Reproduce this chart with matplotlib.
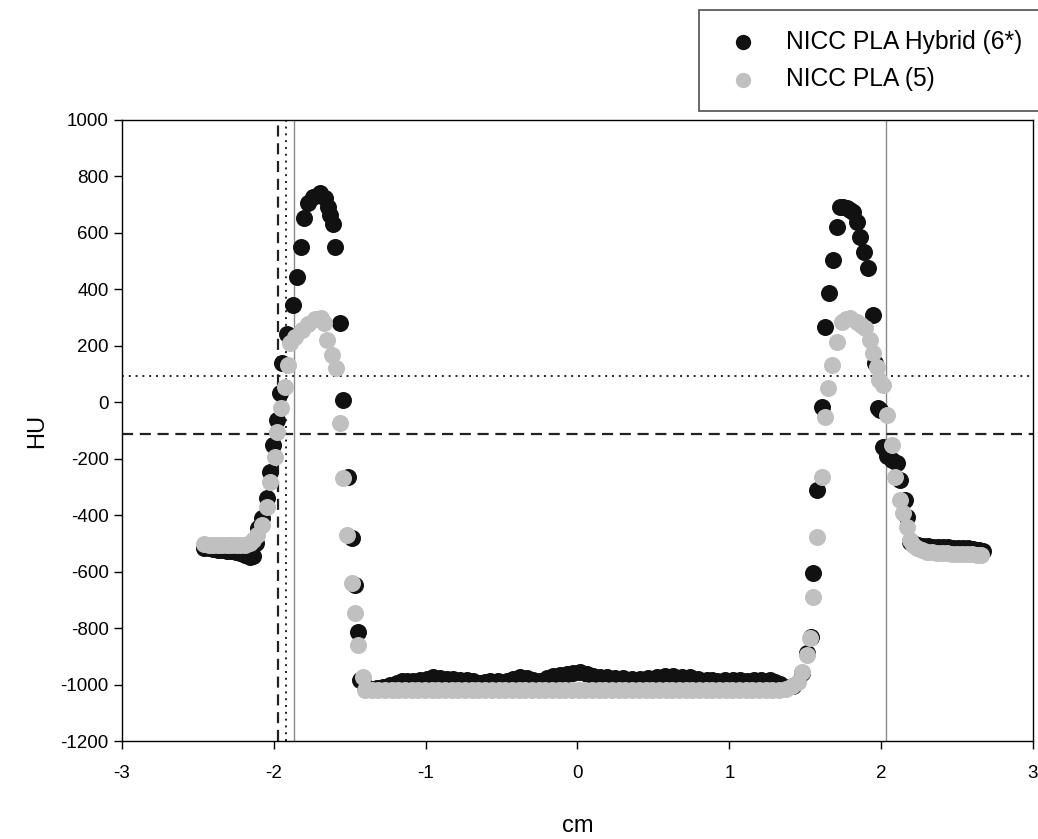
import matplotlib.pyplot as plt
import numpy as np

plt.rcParams['font.family'] = ['Liberation Sans', 'DejaVu Sans']
plt.rcParams['axes.unicode_minus'] = False

# NICC PLA Hybrid (6*) profile: left wall, lumen, right wall
hyb_x_left = [-2.460, -2.430, -2.400, -2.370, -2.340, -2.310, -2.280, -2.250, -2.220,
              -2.190, -2.160, -2.135, -2.115, -2.102, -2.080, -2.047, -2.025, -2.003,
              -1.981, -1.959, -1.948, -1.915, -1.872, -1.849, -1.821, -1.799, -1.773,
              -1.740, -1.696, -1.663, -1.641, -1.630, -1.608, -1.597, -1.564, -1.542,
              -1.510, -1.487, -1.465, -1.444, -1.432]
hyb_hu_left = [-516, -518, -520, -522, -524, -526, -528, -531, -534,
               -542, -548, -545, -500, -446, -411, -340, -246, -151,
               -63, 32, 138, 241, 345, 445, 551, 654, 705,
               728, 740, 723, 693, 663, 631, 551, 280, 8,
               -264, -482, -647, -813, -984]
hyb_x_mid = [-1.400, -1.367, -1.323, -1.279, -1.235, -1.191, -1.158, -1.125, -1.081,
             -1.037, -0.994, -0.950, -0.906, -0.862, -0.818, -0.774, -0.730, -0.686,
             -0.642, -0.609, -0.576, -0.521, -0.466, -0.423, -0.379, -0.335, -0.291,
             -0.247, -0.203, -0.159, -0.115, -0.071, -0.027, 0.016, 0.060, 0.104,
             0.148, 0.192, 0.247, 0.302, 0.357, 0.412, 0.467, 0.522, 0.577,
             0.631, 0.686, 0.741, 0.796, 0.851, 0.884, 0.917, 0.972, 1.026,
             1.070, 1.114, 1.160, 1.210, 1.268, 1.301, 1.334, 1.378, 1.420]
hyb_hu_mid = [-1005, -1016, -1012, -1008, -1000, -993, -989, -987, -986,
              -984, -979, -975, -978, -981, -982, -983, -983, -988,
              -993, -990, -987, -987, -987, -980, -972, -978, -983,
              -987, -978, -969, -966, -963, -960, -957, -963, -969,
              -972, -975, -976, -977, -979, -981, -976, -972, -971,
              -971, -973, -975, -979, -983, -985, -987, -985, -984,
              -984, -987, -985, -984, -983, -990, -998, -1010, -1005]
hyb_x_right = [1.480, 1.510, 1.535, 1.553, 1.575, 1.608, 1.630, 1.659, 1.681,
               1.711, 1.729, 1.751, 1.773, 1.795, 1.816, 1.843, 1.861, 1.887,
               1.915, 1.944, 1.959, 1.981, 1.992, 2.014, 2.040, 2.069, 2.102,
               2.124, 2.157, 2.168, 2.190, 2.212, 2.245, 2.278, 2.311, 2.344,
               2.377, 2.410, 2.443, 2.476, 2.509, 2.542, 2.575, 2.608, 2.641, 2.672]
hyb_hu_right = [-960, -890, -830, -606, -311, -16, 268, 386, 504,
                622, 693, 690, 687, 681, 675, 640, 587, 534,
                475, 309, 138, -21, -27, -157, -190, -204, -216,
                -275, -346, -405, -494, -500, -506, -509, -510, -511,
                -512, -513, -514, -515, -516, -517, -518, -520, -523, -527]

# NICC PLA (5) profile
pla_x_left = [-2.460, -2.430, -2.400, -2.370, -2.340, -2.310, -2.280, -2.250, -2.220,
              -2.190, -2.160, -2.135, -2.113, -2.080, -2.047, -2.025, -1.992, -1.981,
              -1.953, -1.926, -1.905, -1.894, -1.861, -1.817, -1.773, -1.729, -1.689,
              -1.668, -1.652, -1.619, -1.593, -1.564, -1.542, -1.520, -1.487, -1.465,
              -1.444, -1.415]
pla_hu_left = [-503, -504, -504, -505, -505, -506, -506, -507, -506,
               -505, -500, -488, -470, -435, -370, -281, -193, -104,
               -21, 55, 132, 209, 232, 256, 276, 295, 300,
               280, 221, 168, 123, -74, -269, -470, -641, -747,
               -860, -972]
pla_x_mid = [-1.400, -1.356, -1.312, -1.268, -1.224, -1.180, -1.136, -1.092, -1.048,
             -1.004, -0.960, -0.916, -0.872, -0.828, -0.784, -0.740, -0.696, -0.652,
             -0.608, -0.564, -0.520, -0.476, -0.432, -0.388, -0.344, -0.300, -0.256,
             -0.212, -0.168, -0.124, -0.080, -0.036, 0.008, 0.052, 0.096, 0.140,
             0.184, 0.228, 0.272, 0.316, 0.360, 0.404, 0.448, 0.492, 0.536,
             0.580, 0.624, 0.668, 0.712, 0.756, 0.800, 0.844, 0.888, 0.932,
             0.976, 1.020, 1.064, 1.108, 1.152, 1.196, 1.240, 1.284, 1.328,
             1.372, 1.416, 1.450]
pla_hu_mid = [-1019, -1019, -1020, -1019, -1019, -1020, -1019, -1019, -1019,
              -1020, -1019, -1019, -1019, -1020, -1019, -1019, -1019, -1020,
              -1019, -1019, -1020, -1019, -1019, -1019, -1020, -1019, -1019,
              -1019, -1020, -1019, -1019, -1019, -1020, -1019, -1019, -1019,
              -1020, -1019, -1019, -1019, -1020, -1019, -1019, -1019, -1020,
              -1019, -1019, -1019, -1020, -1019, -1019, -1019, -1020, -1019,
              -1019, -1019, -1020, -1019, -1019, -1019, -1020, -1019, -1019,
              -1015, -1005, -990]
pla_x_right = [1.477, 1.510, 1.531, 1.553, 1.575, 1.608, 1.630, 1.652, 1.674,
               1.707, 1.740, 1.770, 1.795, 1.839, 1.870, 1.894, 1.926, 1.948,
               1.971, 1.988, 2.014, 2.041, 2.069, 2.091, 2.124, 2.146, 2.168,
               2.190, 2.212, 2.234, 2.267, 2.300, 2.333, 2.366, 2.399, 2.432,
               2.465, 2.498, 2.531, 2.564, 2.597, 2.630, 2.660]
pla_hu_right = [-954, -895, -836, -689, -476, -264, -51, 49, 132,
                215, 286, 295, 298, 286, 275, 262, 221, 174,
                126, 79, 61, -45, -151, -264, -346, -393, -441,
                -488, -505, -517, -524, -529, -531, -533, -534, -535,
                -536, -537, -537, -538, -539, -540, -541]

hyb_x = hyb_x_left + hyb_x_mid + hyb_x_right
hyb_hu = hyb_hu_left + hyb_hu_mid + hyb_hu_right
pla_x = pla_x_left + pla_x_mid + pla_x_right
pla_hu = pla_hu_left + pla_hu_mid + pla_hu_right

# reference lines
vline_solid = [-1.865, 2.029]
vline_dot = -1.920
vline_dash = -1.975
hline_dot = 93
hline_dash = -112

fig = plt.figure(figsize=(10.38, 8.39), dpi=100)
ax = fig.add_axes([0.1175, 0.1168, 0.8777, 0.7402])

for xv in vline_solid:
    ax.axvline(xv, color='#8a8a8a', linewidth=1.0, zorder=1)
ax.axvline(vline_dot, color='#222222', linewidth=1.4, linestyle=(0, (1, 2.5)), zorder=1)
ax.axvline(vline_dash, color='#222222', linewidth=1.6, linestyle=(0, (5, 3)), zorder=1)
ax.axhline(hline_dot, color='#222222', linewidth=1.4, linestyle=(0, (1, 2.5)), zorder=1)
ax.axhline(hline_dash, color='#222222', linewidth=1.6, linestyle=(0, (5, 3)), zorder=1)

ax.scatter(hyb_x, hyb_hu, s=150, color='#111111', linewidths=0, zorder=3,
           label='NICC PLA Hybrid (6*)')
ax.scatter(pla_x, pla_hu, s=150, color='#c0c0c0', linewidths=0, zorder=4,
           label='NICC PLA (5)')

ax.set_xlim(-3, 3)
ax.set_ylim(-1200, 1000)
ax.set_xticks(range(-3, 4))
ax.set_yticks(range(-1200, 1001, 200))
ax.tick_params(labelsize=13.5, direction='out', length=6, width=1)
ax.tick_params(axis='x', pad=11)
ax.set_xlabel('cm', fontsize=17, labelpad=24)
ax.set_ylabel('HU', fontsize=17, labelpad=9)
for sp in ax.spines.values():
    sp.set_linewidth(1.0)

leg = fig.legend(loc='upper left', bbox_to_anchor=(0.673, 0.988), fontsize=17.7,
                 frameon=True, fancybox=False, edgecolor='#222222',
                 borderpad=0.8, labelspacing=0.55, handletextpad=0.75,
                 handlelength=2.0, markerscale=0.9, borderaxespad=0)
leg.get_frame().set_linewidth(1.2)

fig.savefig('out.png', dpi=100)
